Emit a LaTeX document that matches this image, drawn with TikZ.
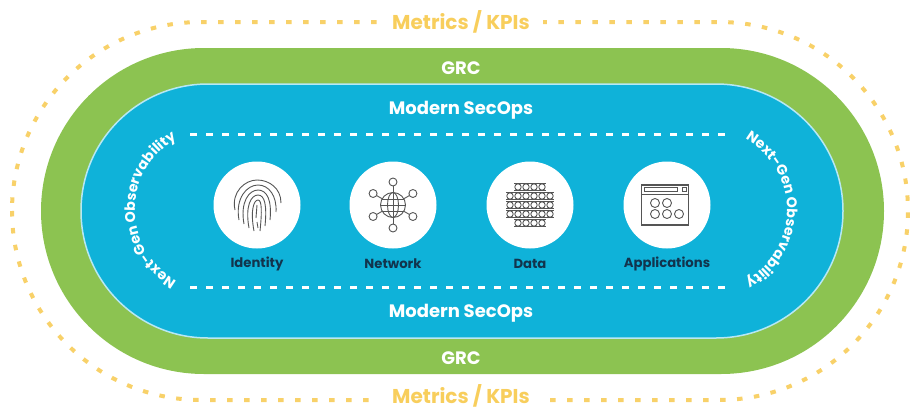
\documentclass[tikz,border=0pt]{standalone}
\usepackage{fontspec}
\setmainfont{Poppins}
\usetikzlibrary{decorations.text}
\definecolor{grn}{HTML}{8CC351}
\definecolor{blu}{HTML}{0FB2D9}
\definecolor{yel}{HTML}{F8D169}
\definecolor{ytx}{HTML}{F8CE5C}
\definecolor{navy}{HTML}{12344D}
\definecolor{ico}{HTML}{555555}
\tikzset{
  wlab/.style={text=white,font=\bfseries\fontsize{18}{20}\selectfont,inner sep=0pt},
  glab/.style={text=white,font=\bfseries\fontsize{18}{20}\selectfont,inner sep=0pt},
  ylab/.style={text=ytx,font=\bfseries\fontsize{20}{22}\selectfont,fill=white,inner xsep=13pt,inner ysep=0pt},
  dlab/.style={text=navy,font=\bfseries\fontsize{13.2}{15}\selectfont,inner sep=0pt},
  disc/.style={circle,fill=white,minimum size=87pt,inner sep=0pt},
  ic/.style={draw=ico,line width=0.9pt,fill=none},
  arct/.style={decorate,decoration={text along path,text align=center,raise=0pt,
     text={|\bfseries\fontsize{14.2}{15}\selectfont\color{white}|Next-Gen Observability}}},
}
\begin{document}
\begin{tikzpicture}[x=1pt,y=-1pt]
\useasboundingbox (0,0) rectangle (911,407);
% outer dotted
\draw[yel,line width=4pt,dash pattern=on 5.5pt off 11.5pt,rounded corners=189pt] (12,22) rectangle (908,400);
% green, blue
\fill[grn,rounded corners=163pt] (41,48) rectangle (884,374);
\draw[fill=blu,draw=white!70!blu,line width=1.5pt,rounded corners=127pt] (81,84) rectangle (843,338);
% inner dashed lines
\coordinate (tl) at (190,134); \coordinate (tr) at (730,134);
\coordinate (bl) at (190,287); \coordinate (br) at (730,287);
\draw[white,line width=3pt,dash pattern=on 7pt off 9pt] (tl) -- (tr);
\draw[white,line width=3pt,dash pattern=on 7pt off 9pt] (bl) -- (br);
% arc texts
\path[arct] (188,287) .. controls (155,272) and (135,245) .. (135,210) .. controls (135,175) and (155,148) .. (188,133);
\path[arct] (734,133) .. controls (767,148) and (787,175) .. (787,210) .. controls (787,245) and (767,272) .. (734,287);
% labels
\node[ylab] (m1) at (461,22) {Metrics / KPIs};
\node[ylab] (m2) at (461,396) {Metrics / KPIs};
\node[glab] (g1) at (461,68) {GRC};
\node[glab] (g2) at (461,358) {GRC};
\node[wlab] (s1) at (461,110) {Modern SecOps};
\node[wlab] (s2) at (461,313) {Modern SecOps};
% discs
\node[disc] (d1) at (257,205) {};
\node[disc] (d2) at (393,205) {};
\node[disc] (d3) at (530,205) {};
\node[disc] (d4) at (667,205) {};
\node[dlab] (l1) at (257,264) {Identity};
\node[dlab] (l2) at (393,264) {Network};
\node[dlab] (l3) at (530,264) {Data};
\node[dlab] (l4) at (667,264) {Applications};
% fingerprint
\begin{scope}[shift={(257,206)}]
  \draw[ic] (-22,4) .. controls (-26,-14) and (-12,-26) .. (0,-26) .. controls (12,-26) and (24,-18) .. (24,-3);
  \draw[ic] (-18,14) .. controls (-22,-8) and (-10,-21) .. (1,-21) .. controls (12,-21) and (20,-10) .. (19,6);
  \draw[ic] (-13,18) .. controls (-17,-4) and (-8,-16) .. (1,-16) .. controls (10,-16) and (15,-6) .. (13,14);
  \draw[ic] (-8,22) .. controls (-12,0) and (-6,-11) .. (1,-11) .. controls (8,-11) and (10,0) .. (8,20);
  \draw[ic] (-3,25) .. controls (-7,4) and (-3,-6) .. (1,-6) .. controls (5,-6) and (5,6) .. (3,25);
  \draw[ic] (0,-1) -- (-1,12) (0,16) -- (1,22);
\end{scope}
% network
\begin{scope}[shift={(393,205)}]
  \draw[ic] (0,0) circle (12.5);
  \draw[ic] (0,0) ellipse (5.5 and 12.5);
  \draw[ic] (-12.5,0) -- (12.5,0) (0,-12.5) -- (0,12.5) (-11,-6) -- (11,-6) (-11,6) -- (11,6);
  \foreach \a in {90,-90,30,-30,150,210}{
    \draw[ic] (\a:12.5) -- (\a:19);
    \draw[ic] (\a:23) circle (4);
  }
\end{scope}
% data
\begin{scope}[shift={(530,205)}]
  \foreach \y/\xa/\xb in {-18/-2/1,-9/-3/2,0/-3/2,9/-3/2,18/-2/1}{
    \foreach \i in {\xa,...,\xb}{
      \draw[ic] (\i*8+4,\y) circle (3.2);
      \draw[ic] (\i*8,\y-3.5) -- (\i*8+8,\y-3.5);
      \draw[ic] (\i*8,\y+3.5) -- (\i*8+8,\y+3.5);
    }
  }
\end{scope}
% applications
\begin{scope}[shift={(665,205)}]
  \draw[ic,line width=1.2pt] (-23.5,-20) rectangle (23.5,20);
  \draw[ic] (-23.5,-11) -- (23.5,-11);
  \draw[ic] (-21,-17.5) rectangle (12,-13.5);
  \draw[ic] (17,-17.5) rectangle (21,-13.5);
  \foreach \x/\y in {-10/-2,2/-2,-10/9,2/9,14/9}{
    \draw[ic] (\x,\y) circle (4.5);
  }
\end{scope}
\end{tikzpicture}
\end{document}
